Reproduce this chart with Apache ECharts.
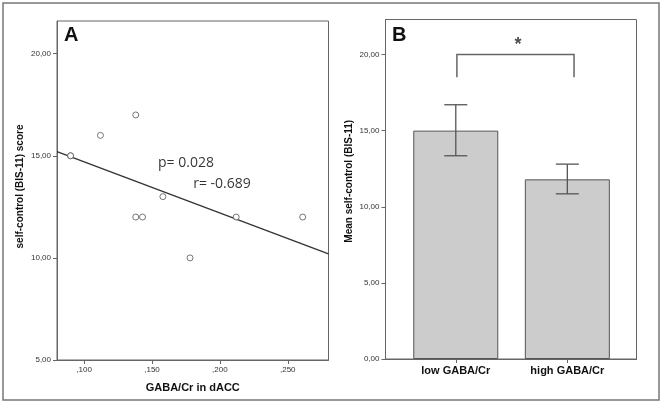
<!DOCTYPE html>
<html>
<head>
<meta charset="utf-8">
<script src="https://cdn.jsdelivr.net/npm/echarts@6/dist/echarts.min.js"></script>
<style>html,body{margin:0;padding:0;background:#fff}#c{width:662px;height:403px}</style>
</head>
<body>
<div id="c"></div>
<script>
// ---- Panel A data ----
const scatterX = [0.090, 0.090, 0.112, 0.138, 0.138, 0.143, 0.158, 0.178, 0.212, 0.261];
const scatterY = [15, 15, 16, 17, 12, 12, 13, 10, 12, 12];
const fitX = [0.08, 0.28];
const fitY = [15.2, 10.2];
const xTicksA = [0.10, 0.15, 0.20, 0.25];
const yTicksA = [5, 10, 15, 20];
const statText = ['p= 0.028', 'r= -0.689'];
const statX = [0.175, 0.2015];
const statY = [14.64, 13.6];

// ---- Panel B data ----
const barCategories = ['low GABA/Cr', 'high GABA/Cr'];
const barPositions = [1, 2];
const barMeans = [15.0, 11.8];
const errUpper = [16.7, 12.8];
const errLower = [13.35, 10.85];
const yTicksB = [0, 5, 10, 15, 20];
const bracketX = [1.01, 2.06];
const bracketTop = 20.0;
const bracketBottom = 18.5;
const starPos = [1.558, 20.6];

const fmtY = v => v.toFixed(2).replace('.', ',');
const fmtX = v => v.toFixed(3).replace(/^0\./, ',');

const chart = echarts.init(document.getElementById('c'));
const axisGray = '#666';
const FONT = 'Liberation Sans, Arial, sans-serif';
const tickLabel = {fontSize: 8, color: '#333', fontFamily: FONT};

chart.setOption({
  animation: false,
  grid: [
    {left: 57, top: 21, right: 333.5, bottom: 43, show: true, borderColor: axisGray, borderWidth: 1, containLabel: false},
    {left: 385.5, top: 19.5, right: 25.5, bottom: 44, show: true, borderColor: axisGray, borderWidth: 1, containLabel: false}
  ],
  xAxis: [
    {type: 'value', gridIndex: 0, min: 0.08, max: 0.28,
     splitLine: {show: false},
     axisLine: {show: true, lineStyle: {color: axisGray}},
     axisTick: {show: true, length: 4, lineStyle: {color: axisGray}, customValues: xTicksA},
     axisLabel: Object.assign({margin: 6, formatter: fmtX, customValues: xTicksA}, tickLabel),
     name: 'GABA/Cr in dACC', nameLocation: 'middle', nameGap: 22,
     nameTextStyle: {fontSize: 11, fontWeight: 'bold', color: '#111', fontFamily: FONT}},
    {type: 'value', gridIndex: 1, min: 0.37, max: 2.62,
     splitLine: {show: false},
     axisLine: {show: true, lineStyle: {color: axisGray}},
     axisTick: {show: true, length: 4, lineStyle: {color: axisGray}, customValues: barPositions},
     axisLabel: {margin: 6, customValues: barPositions, fontSize: 11, fontWeight: 'bold', color: '#111',
       fontFamily: FONT,
       formatter: v => { const i = barPositions.indexOf(Math.round(v)); return i >= 0 ? barCategories[i] : ''; }}}
  ],
  yAxis: [
    {type: 'value', gridIndex: 0, min: 5, max: 21.6,
     splitLine: {show: false},
     axisLine: {show: true, lineStyle: {color: axisGray}},
     axisTick: {show: true, length: 4, lineStyle: {color: axisGray}, customValues: yTicksA},
     axisLabel: Object.assign({margin: 6, formatter: fmtY, customValues: yTicksA}, tickLabel),
     name: 'self-control (BIS-11) score', nameLocation: 'middle', nameGap: 32,
     nameTextStyle: {fontSize: 10, fontWeight: 'bold', color: '#111', fontFamily: FONT, padding: [0, 0, 0, 8]}},
    {type: 'value', gridIndex: 1, min: 0, max: 22.3,
     splitLine: {show: false},
     axisLine: {show: true, lineStyle: {color: axisGray}},
     axisTick: {show: true, length: 4, lineStyle: {color: axisGray}, customValues: yTicksB},
     axisLabel: Object.assign({margin: 6, formatter: fmtY, customValues: yTicksB}, tickLabel),
     name: 'Mean self-control (BIS-11)', nameLocation: 'middle', nameGap: 31,
     nameTextStyle: {fontSize: 10, fontWeight: 'bold', color: '#111', fontFamily: FONT, padding: [0, 0, 0, 16]}}
  ],
  graphic: [
    {type: 'rect', shape: {x: 3, y: 3, width: 656, height: 397}, style: {fill: 'none', stroke: '#777', lineWidth: 1.5}, silent: true},
    {type: 'text', left: 64, top: 25, style: {text: 'A', fontSize: 20, fontWeight: 'bold', fill: '#111', fontFamily: FONT}},
    {type: 'text', left: 392, top: 25, style: {text: 'B', fontSize: 20, fontWeight: 'bold', fill: '#111', fontFamily: FONT}}
  ],
  series: [
    {type: 'line', xAxisIndex: 0, yAxisIndex: 0, data: fitX.map((x, i) => [x, fitY[i]]),
     symbol: 'none', lineStyle: {color: '#333', width: 1.3}, z: 2},
    {type: 'scatter', xAxisIndex: 0, yAxisIndex: 0, data: scatterX.map((x, i) => [x, scatterY[i]]),
     symbol: 'circle', symbolSize: 6, itemStyle: {color: '#fff', borderColor: '#555', borderWidth: 1}, z: 3},
    {type: 'scatter', xAxisIndex: 0, yAxisIndex: 0, symbolSize: 0, silent: true,
     data: statText.map((t, i) => ({value: [statX[i], statY[i]], name: t})),
     label: {show: true, position: 'inside', formatter: p => p.name, fontSize: 14, color: '#000', fontFamily: 'Open Sans, Noto Sans, sans-serif'}, z: 4},
    {type: 'bar', xAxisIndex: 1, yAxisIndex: 1, data: barPositions.map((x, i) => [x, barMeans[i]]),
     barWidth: 85, itemStyle: {color: '#cccccc', borderColor: '#555', borderWidth: 1}},
    {type: 'custom', xAxisIndex: 1, yAxisIndex: 1, z: 5,
     data: barPositions.map((x, i) => [x, errLower[i], errUpper[i]]),
     renderItem: (params, api) => {
       const lo = api.coord([api.value(0), api.value(1)]);
       const hi = api.coord([api.value(0), api.value(2)]);
       const w = 11.5;
       const st = {stroke: '#555', lineWidth: 1.3, fill: 'none'};
       return {type: 'group', children: [
         {type: 'line', shape: {x1: hi[0], y1: hi[1], x2: lo[0], y2: lo[1]}, style: st},
         {type: 'line', shape: {x1: hi[0] - w, y1: hi[1], x2: hi[0] + w, y2: hi[1]}, style: st},
         {type: 'line', shape: {x1: lo[0] - w, y1: lo[1], x2: lo[0] + w, y2: lo[1]}, style: st}
       ]};
     }},
    {type: 'custom', xAxisIndex: 1, yAxisIndex: 1, z: 5,
     data: [[bracketX[0], bracketX[1], bracketTop, bracketBottom]],
     renderItem: (params, api) => {
       const a = api.coord([api.value(0), api.value(2)]);
       const b = api.coord([api.value(1), api.value(2)]);
       const c = api.coord([api.value(0), api.value(3)]);
       const d = api.coord([api.value(1), api.value(3)]);
       return {type: 'polyline', shape: {points: [c, a, b, d]}, style: {stroke: '#666', lineWidth: 1.5, fill: 'none'}};
     }},
    {type: 'scatter', xAxisIndex: 1, yAxisIndex: 1, symbolSize: 0, silent: true,
     data: [{value: starPos, name: '*'}],
     label: {show: true, position: 'inside', formatter: '*', fontSize: 18, fontWeight: 'bold', color: '#222', fontFamily: FONT}}
  ]
});
</script>
</body>
</html>
